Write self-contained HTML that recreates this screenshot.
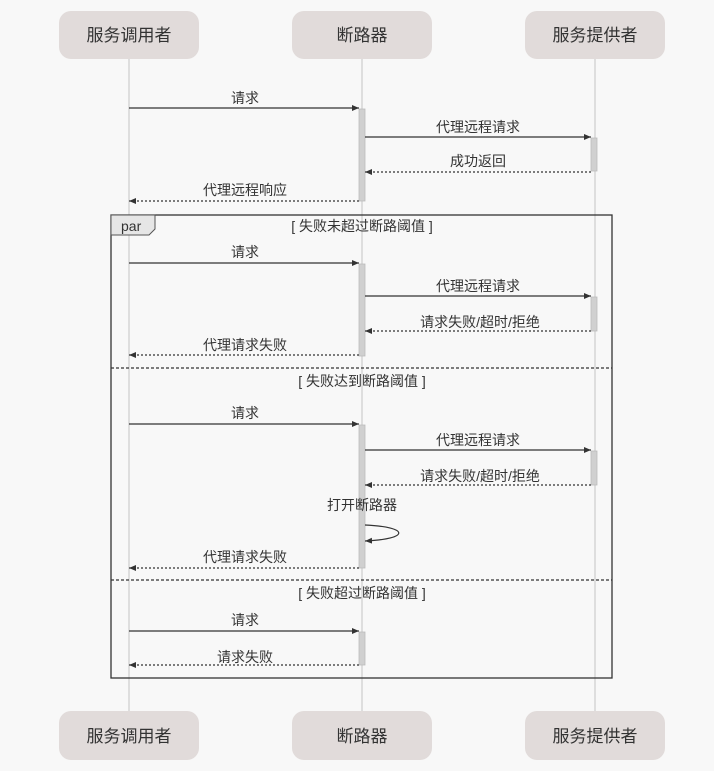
<!DOCTYPE html>
<html><head><meta charset="utf-8"><style>
html,body{margin:0;padding:0;background:#f8f8f8;}
text{font-family:"Liberation Sans","Noto Sans CJK SC",sans-serif;fill:#333;}
</style></head><body>
<svg width="714" height="766" xmlns="http://www.w3.org/2000/svg">
<defs>
<marker id="a" markerWidth="8" markerHeight="6" refX="7" refY="3" orient="auto" markerUnits="userSpaceOnUse"><path d="M0,0 L7,3 L0,6 z" fill="#333"/></marker>
</defs>
<rect width="714" height="766" fill="#f8f8f8"/>
<!-- lifelines -->
<g stroke="#d6d6d6" stroke-width="1.5">
<line x1="129" y1="59" x2="129" y2="711"/>
<line x1="362" y1="59" x2="362" y2="711"/>
<line x1="595" y1="59" x2="595" y2="711"/>
</g>
<!-- participants -->
<g fill="#e1dbda">
<rect x="59" y="11" width="140" height="48" rx="12"/>
<rect x="292" y="11" width="140" height="48" rx="12"/>
<rect x="525" y="11" width="140" height="48" rx="12"/>
<rect x="59" y="711" width="140" height="49" rx="12"/>
<rect x="292" y="711" width="140" height="49" rx="12"/>
<rect x="525" y="711" width="140" height="49" rx="12"/>
</g>
<g font-size="17" text-anchor="middle">
<text x="129" y="41">服务调用者</text><text x="362" y="41">断路器</text><text x="595" y="41">服务提供者</text>
<text x="129" y="742">服务调用者</text><text x="362" y="742">断路器</text><text x="595" y="742">服务提供者</text>
</g>
<!-- frame -->
<rect x="111" y="215" width="501" height="463" fill="none" stroke="#333" stroke-width="1.3"/>
<path d="M111,215 H155 V229 L149,235 H111 z" fill="#e6e6e6" stroke="#555" stroke-width="1"/>
<text x="121" y="231" font-size="14" fill="#444">par</text>
<g stroke="#333" stroke-dasharray="3,2" stroke-width="1.2">
<line x1="111" y1="368" x2="612" y2="368"/><line x1="111" y1="580" x2="612" y2="580"/>
</g>
<!-- activations -->
<g fill="#d0d0d0" stroke="#bbb" stroke-width="0.8">
<rect x="359" y="109" width="6" height="92"/>
<rect x="591" y="138" width="6" height="33"/>
<rect x="359" y="264" width="6" height="92"/>
<rect x="591" y="297" width="6" height="34"/>
<rect x="359" y="425" width="6" height="143"/>
<rect x="591" y="451" width="6" height="34"/>
<rect x="359" y="632" width="6" height="33"/>
</g>
<!-- arrows -->
<g stroke="#333" stroke-width="1.2" fill="none" marker-end="url(#a)">
<line x1="129" y1="108" x2="359" y2="108"/>
<line x1="365" y1="137" x2="591" y2="137"/>
<line x1="591" y1="172" x2="365" y2="172" stroke-dasharray="2,2"/>
<line x1="359" y1="201" x2="129" y2="201" stroke-dasharray="2,2"/>
<line x1="129" y1="263" x2="359" y2="263"/>
<line x1="365" y1="296" x2="591" y2="296"/>
<line x1="591" y1="331" x2="365" y2="331" stroke-dasharray="2,2"/>
<line x1="359" y1="355" x2="129" y2="355" stroke-dasharray="2,2"/>
<line x1="129" y1="424" x2="359" y2="424"/>
<line x1="365" y1="450" x2="591" y2="450"/>
<line x1="591" y1="485" x2="365" y2="485" stroke-dasharray="2,2"/>
<path d="M365,525 C410,527 410,539 365,541"/>
<line x1="359" y1="568" x2="129" y2="568" stroke-dasharray="2,2"/>
<line x1="129" y1="631" x2="359" y2="631"/>
<line x1="359" y1="665" x2="129" y2="665" stroke-dasharray="2,2"/>
</g>
<g font-size="14" text-anchor="middle">
<text x="245" y="103">请求</text>
<text x="478" y="132">代理远程请求</text>
<text x="478" y="166">成功返回</text>
<text x="245" y="195">代理远程响应</text>
<text x="362" y="231">[ 失败未超过断路阈值 ]</text>
<text x="245" y="257">请求</text>
<text x="478" y="291">代理远程请求</text>
<text x="480" y="327">请求失败/超时/拒绝</text>
<text x="245" y="350">代理请求失败</text>
<text x="362" y="386">[ 失败达到断路阈值 ]</text>
<text x="245" y="418">请求</text>
<text x="478" y="445">代理远程请求</text>
<text x="480" y="481">请求失败/超时/拒绝</text>
<text x="362" y="510">打开断路器</text>
<text x="245" y="562">代理请求失败</text>
<text x="362" y="598">[ 失败超过断路阈值 ]</text>
<text x="245" y="625">请求</text>
<text x="245" y="662">请求失败</text>
</g>
</svg>
</body></html>
